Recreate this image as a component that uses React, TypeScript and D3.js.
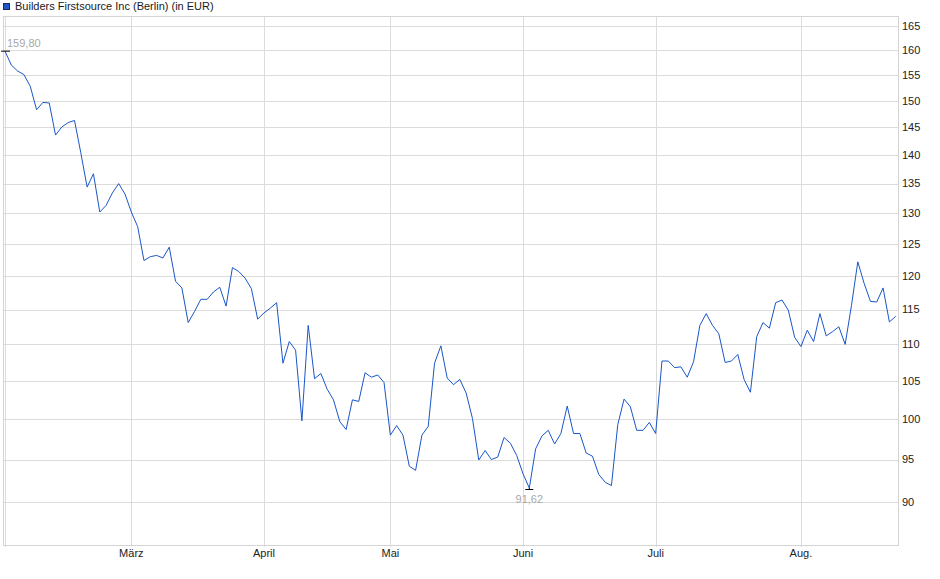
import React from "react";
import * as d3 from "d3";

const title = "Builders Firstsource Inc (Berlin) (in EUR)";

// Closing prices, one per trading day (Feb 3 ... Aug 2025)
const prices: number[] = [
  159.8, 157.0, 155.8, 155.1, 152.8, 148.3, 149.7, 149.6, 143.6, 145.1, 145.9, 146.3, 140.4, 134.4, 136.7, 130.2, 131.3, 133.4, 135.0, 133.2, 130.2, 127.8, 122.4, 123.0, 123.2,
  122.8, 124.5, 119.2, 118.2, 113.1, 114.7, 116.5, 116.5, 117.6, 118.3, 115.5, 121.3, 120.7, 119.7, 118.1, 113.6, 114.5, 115.2, 116.0, 107.4, 110.4, 109.2, 99.8, 112.7,
  105.3, 106.0, 103.9, 102.5, 99.7, 98.7, 102.5, 102.3, 106.1, 105.5, 105.8, 104.8, 98.0, 99.2, 98.0, 94.2, 93.7, 98.0, 99.1, 107.4, 109.8, 105.4, 104.5, 105.2,
  103.4, 100.1, 94.95, 96.1, 95.0, 95.3, 97.7, 97.0, 95.5, 93.3, 91.62, 96.3, 97.9, 98.6, 96.9, 98.2, 101.7, 98.2, 98.2, 95.8, 95.4, 93.2, 92.3, 91.9,
  99.3, 102.6, 101.6, 98.6, 98.6, 99.6, 98.2, 107.7, 107.7, 106.8, 106.9, 105.5, 107.6, 112.7, 114.4, 112.7, 111.5, 107.5, 107.7, 108.6, 105.2, 103.5, 111.1,
  113.1, 112.3, 116.0, 116.4, 114.9, 111.0, 109.7, 112.0, 110.4, 114.4, 111.2, 111.8, 112.5, 110.0, 115.6, 122.2, 118.9, 116.2, 116.1, 118.2, 113.2, 114.0,
];

// First trading day of each month (index into prices) and labels
const monthTickIdx: number[] = [0, 20, 41, 61, 82, 103, 126];
const monthLabels: string[] = ["", "März", "April", "Mai", "Juni", "Juli", "Aug."];

const yTicks: number[] = [90, 95, 100, 105, 110, 115, 120, 125, 130, 135, 140, 145, 150, 155, 160, 165];

const startLabel = "159,80";
const minLabel = "91,62";

const W = 940;
const H = 579;
const plotLeft = 3;
const plotRight = 898;
const plotTop = 16;
const plotBottom = 545;

export default function App() {
  const x = d3.scaleLinear().domain([0, prices.length - 1]).range([5, 895.7]);
  const y = d3.scaleLog().domain([90, 165]).range([502, 26]);

  const line = d3
    .line<number>()
    .x((_, i) => x(i))
    .y((d) => y(d));

  const minIdx = d3.minIndex(prices);
  const font = "'Liberation Sans', Arial, sans-serif";
  const gridColor = "#dcdcdc";

  return (
    <div style={{ position: "absolute", left: 0, top: 0 }}>
      <svg width={W} height={H} style={{ display: "block", background: "#fff" }} fontFamily={font}>
        {/* legend */}
        <rect x={3.5} y={3.5} width={6} height={6} fill="#1d58c8" stroke="#1a2a5a" strokeWidth={1} />
        <text x={15} y={10} fontSize={11} fill="#1a1a1a">
          {title}
        </text>

        {/* horizontal grid */}
        {yTicks.map((t) => (
          <line
            key={"h" + t}
            x1={plotLeft}
            x2={plotRight}
            y1={Math.round(y(t)) + 0.5}
            y2={Math.round(y(t)) + 0.5}
            stroke={gridColor}
            strokeWidth={1}
          />
        ))}
        {/* vertical grid */}
        {monthTickIdx.map((idx) => (
          <line
            key={"v" + idx}
            x1={Math.round(x(idx)) + 0.5}
            x2={Math.round(x(idx)) + 0.5}
            y1={plotTop}
            y2={plotBottom + 2}
            stroke={gridColor}
            strokeWidth={1}
          />
        ))}
        {/* plot border */}
        <rect
          x={plotLeft + 0.5}
          y={plotTop + 0.5}
          width={plotRight - plotLeft}
          height={plotBottom - plotTop}
          fill="none"
          stroke="#d4d4d4"
          strokeWidth={1}
        />

        {/* y labels */}
        {yTicks.map((t) => (
          <text key={"yl" + t} x={902} y={y(t)} dy="0.35em" fontSize={11} fill="#222">
            {t}
          </text>
        ))}
        {/* x labels */}
        {monthTickIdx.map((idx, i) =>
          monthLabels[i] ? (
            <text key={"xl" + idx} x={x(idx)} y={553} dy="0.35em" fontSize={11} fill="#222" textAnchor="middle">
              {monthLabels[i]}
            </text>
          ) : null
        )}

        {/* price line */}
        <path d={line(prices) || ""} fill="none" stroke="#1a56c8" strokeWidth={1} strokeLinejoin="round" />

        {/* start marker */}
        <line x1={x(0) - 4} x2={x(0) + 5} y1={y(prices[0])} y2={y(prices[0])} stroke="#000" strokeWidth={1} />
        <text x={x(0) + 2} y={y(prices[0]) - 8} dy="0.35em" fontSize={11} fill="#a8a8a8">
          {startLabel}
        </text>

        {/* min marker */}
        <line x1={x(minIdx)} x2={x(minIdx)} y1={y(prices[minIdx])} y2={y(prices[minIdx]) + 2} stroke="#000" strokeWidth={1} />
        <line x1={x(minIdx) - 4} x2={x(minIdx) + 4} y1={y(prices[minIdx]) + 1.5} y2={y(prices[minIdx]) + 1.5} stroke="#000" strokeWidth={1} />
        <text x={x(minIdx)} y={y(prices[minIdx]) + 11.5} dy="0.35em" fontSize={11} fill="#a8a8a8" textAnchor="middle">
          {minLabel}
        </text>
      </svg>
    </div>
  );
}
